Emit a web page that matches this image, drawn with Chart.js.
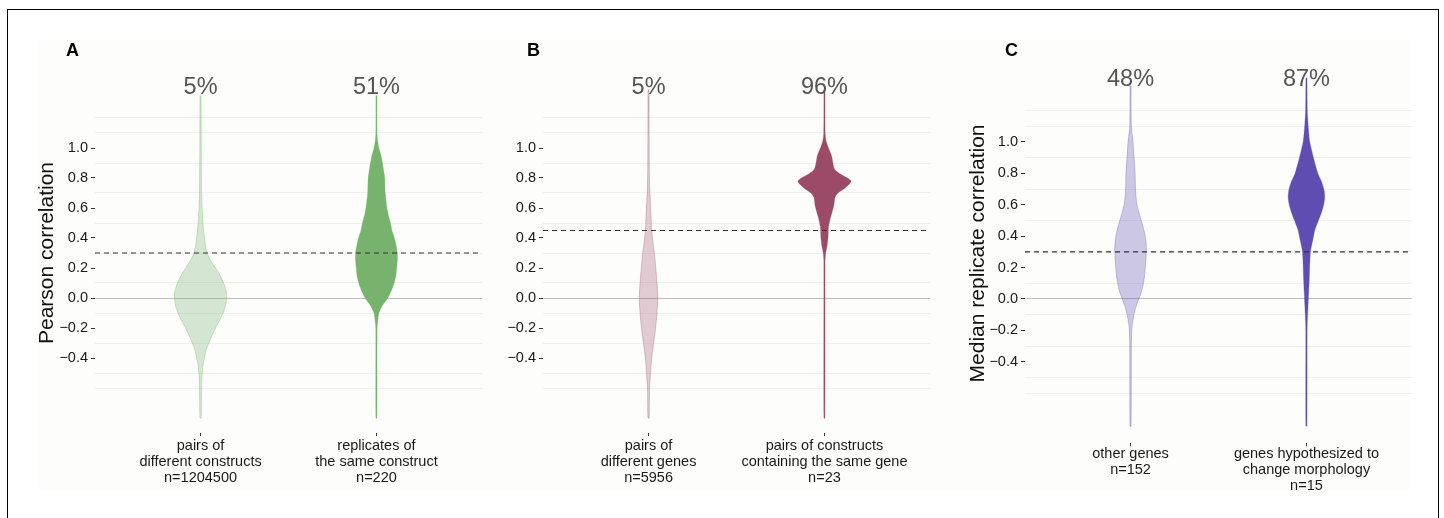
<!DOCTYPE html>
<html>
<head>
<meta charset="utf-8">
<script src="https://cdn.jsdelivr.net/npm/chart.js@4.4.1/dist/chart.umd.min.js"></script>
<style>
  html, body { margin: 0; padding: 0; background: #fff; }
  body { width: 1444px; height: 518px; position: relative; overflow: hidden; font-family: "Liberation Sans", Arial, sans-serif; }
  .frame { position: absolute; left: 7px; top: 9px; width: 1430px; height: 600px; border: 1px solid #000; }
  .panel-bg { position: absolute; top: 40px; height: 450px; background: #fdfdfc; }
  .letter { position: absolute; top: 41px; font-size: 18px; line-height: 18px; font-weight: bold; color: #000; }
  .chart-box { position: absolute; top: 40px; height: 470px; }
</style>
</head>
<body>
<div class="frame"></div>
<div class="panel-bg" style="left:38px;width:452px"></div>
<div class="panel-bg" style="left:490px;width:460px"></div>
<div class="panel-bg" style="left:950px;width:460px"></div>

<div class="chart-box" style="left:30px;width:460px"><canvas id="panelA" width="460" height="470"></canvas></div>
<div class="chart-box" style="left:490px;width:460px"><canvas id="panelB" width="460" height="470"></canvas></div>
<div class="chart-box" style="left:950px;width:470px"><canvas id="panelC" width="470" height="470"></canvas></div>

<div class="letter" style="left:66px">A</div>
<div class="letter" style="left:527px">B</div>
<div class="letter" style="left:1005px">C</div>

<script>
const FONT = '"Liberation Sans", Arial, sans-serif';

// y axis: labelled ticks and the faint grid lines between them
const yTickValues = [-0.4, -0.2, 0, 0.2, 0.4, 0.6, 0.8, 1.0];
const yGridValues = [-0.6, -0.5, -0.3, -0.1, 0.1, 0.3, 0.5, 0.7, 0.9, 1.1, 1.2];

// panel A
const labelsA = [['pairs of', 'different constructs', 'n=1204500'], ['replicates of', 'the same construct', 'n=220']];
const percentA = ['5%', '51%'];
const thresholdA = 0.3;
const levelsA1 = [1.35, 1.0, 0.7, 0.6, 0.55, 0.5, 0.45, 0.4, 0.35, 0.3, 0.25, 0.2, 0.15, 0.1, 0.05, 0.0, -0.05, -0.1, -0.15, -0.2, -0.25, -0.3, -0.35, -0.4, -0.45, -0.5, -0.6, -0.8];
const widthsA1 = [0.003, 0.004, 0.006, 0.009, 0.011, 0.014, 0.017, 0.023, 0.028, 0.037, 0.057, 0.085, 0.111, 0.131, 0.145, 0.149, 0.142, 0.128, 0.108, 0.085, 0.065, 0.047, 0.031, 0.022, 0.014, 0.009, 0.006, 0.003];
const levelsA2 = [1.35, 1.1, 1.05, 1.0, 0.95, 0.9, 0.85, 0.8, 0.7, 0.6, 0.55, 0.5, 0.45, 0.4, 0.35, 0.3, 0.25, 0.2, 0.15, 0.1, 0.05, 0.0, -0.05, -0.1, -0.15, -0.2, -0.8];
const widthsA2 = [0.003, 0.0035, 0.007, 0.014, 0.026, 0.034, 0.041, 0.047, 0.050, 0.060, 0.068, 0.080, 0.088, 0.102, 0.112, 0.119, 0.119, 0.115, 0.111, 0.101, 0.085, 0.065, 0.034, 0.014, 0.008, 0.004, 0.003];

// panel B
const labelsB = [['pairs of', 'different genes', 'n=5956'], ['pairs of constructs', 'containing the same gene', 'n=23']];
const percentB = ['5%', '96%'];
const thresholdB = 0.45;
const levelsB1 = [1.39, 0.9, 0.75, 0.65, 0.55, 0.45, 0.35, 0.3, 0.2, 0.1, 0.0, -0.1, -0.2, -0.3, -0.4, -0.5, -0.6, -0.8];
const widthsB1 = [0.003, 0.004, 0.006, 0.010, 0.014, 0.018, 0.027, 0.033, 0.041, 0.048, 0.053, 0.048, 0.040, 0.029, 0.018, 0.011, 0.006, 0.003];
const levelsB2 = [1.39, 1.1, 1.05, 1.0, 0.95, 0.9, 0.86, 0.83, 0.8, 0.78, 0.76, 0.73, 0.7, 0.67, 0.62, 0.57, 0.52, 0.47, 0.4, 0.34, 0.3, 0.25, -0.8];
const widthsB2 = [0.003, 0.004, 0.009, 0.023, 0.040, 0.048, 0.057, 0.085, 0.131, 0.151, 0.142, 0.114, 0.077, 0.060, 0.054, 0.043, 0.031, 0.023, 0.020, 0.014, 0.007, 0.0035, 0.003];

// panel C
const labelsC = [['other genes', 'n=152'], ['genes hypothesized to', 'change morphology', 'n=15']];
const percentC = ['48%', '87%'];
const thresholdC = 0.3;
const levelsC1 = [1.36, 1.1, 1.0, 0.9, 0.8, 0.7, 0.61, 0.55, 0.5, 0.42, 0.36, 0.31, 0.25, 0.2, 0.15, 0.1, 0.05, 0.0, -0.05, -0.1, -0.15, -0.2, -0.3, -0.81];
const widthsC1 = [0.003, 0.0045, 0.014, 0.020, 0.026, 0.028, 0.035, 0.048, 0.061, 0.080, 0.088, 0.090, 0.087, 0.084, 0.080, 0.073, 0.063, 0.047, 0.031, 0.019, 0.011, 0.007, 0.0045, 0.003];
const levelsC2 = [1.41, 1.2, 1.12, 1.05, 1.0, 0.9, 0.8, 0.75, 0.7, 0.65, 0.6, 0.55, 0.5, 0.44, 0.38, 0.31, 0.25, 0.15, 0.05, 0.0, -0.05, -0.12, -0.2, -0.81];
const widthsC2 = [0.003, 0.005, 0.009, 0.014, 0.019, 0.040, 0.065, 0.085, 0.099, 0.104, 0.098, 0.085, 0.068, 0.048, 0.037, 0.024, 0.020, 0.017, 0.013, 0.011, 0.009, 0.006, 0.004, 0.003];

// outline of a violin: down the left side, back up the right side
function violinPoints(center, levels, widths) {
    const left = levels.map((y, i) => ({x: center - widths[i], y: y}));
    const right = levels.map((y, i) => ({x: center + widths[i], y: y})).reverse();
    return left.concat(right);
}

function violin(center, levels, widths, fill, border, lineWidth) {
    return {
        data: violinPoints(center, levels, widths),
        fill: 'shape',
        backgroundColor: fill,
        borderColor: border,
        borderWidth: lineWidth,
        pointRadius: 0,
        tension: 0.25,
        order: 2
    };
}

const isOn = (list, v) => list.some(t => Math.abs(t - v) < 1e-6);

const percentPlugin = {
    id: 'pctLabels',
    afterDatasetsDraw(chart, args, opts) {
        const {ctx, scales: {x, y}} = chart;
        ctx.save();
        ctx.font = '23.5px ' + FONT;
        ctx.fillStyle = '#555555';
        ctx.textAlign = 'center';
        ctx.textBaseline = 'middle';
        opts.labels.forEach((t, i) => {
            ctx.fillText(t, x.getPixelForValue(i + 1), y.getPixelForValue(opts.at));
        });
        ctx.restore();
    }
};

function makePanel(id, p) {
    new Chart(document.getElementById(id), {
        type: 'line',
        data: {
            datasets: [
                {
                    data: [{x: 0.4, y: p.threshold}, {x: 2.6, y: p.threshold}],
                    borderColor: '#333333',
                    borderWidth: 1.2,
                    borderDash: [5, 4],
                    pointRadius: 0,
                    fill: false,
                    order: 0
                },
                violin(1, p.levels1, p.widths1, p.light, p.lightBorder, 0.8),
                violin(2, p.levels2, p.widths2, p.dark, p.dark, 0.3)
            ]
        },
        options: {
            responsive: false,
            animation: false,
            layout: {padding: {left: p.padLeft, right: p.padRight, top: p.padTop, bottom: 0}},
            plugins: {
                legend: {display: false},
                tooltip: {enabled: false},
                pctLabels: {labels: p.percents, at: 1.4}
            },
            scales: {
                x: {
                    type: 'linear',
                    min: 0.4,
                    max: 2.6,
                    afterBuildTicks: s => { s.ticks = [{value: 1}, {value: 2}]; },
                    afterFit: s => { s.height = p.xHeight; },
                    grid: {drawOnChartArea: false, tickLength: 3, tickColor: '#333333', tickWidth: 1},
                    border: {display: false},
                    ticks: {
                        autoSkip: false,
                        maxRotation: 0,
                        padding: p.xPad,
                        color: '#1a1a1a',
                        font: {family: FONT, size: 14.5, lineHeight: 1.1},
                        callback: v => p.labels[Math.round(v) - 1]
                    }
                },
                y: {
                    type: 'linear',
                    min: p.yMin,
                    max: p.yMax,
                    afterBuildTicks: s => {
                        s.ticks = yTickValues.concat(yGridValues).sort((a, b) => a - b).map(v => ({value: v}));
                    },
                    afterFit: s => { s.width = p.yWidth; },
                    title: {
                        display: !!p.title,
                        text: p.title,
                        color: '#111111',
                        padding: 0,
                        font: {family: FONT, size: 21, lineHeight: 1}
                    },
                    grid: {
                        tickLength: 4,
                        lineWidth: 1,
                        color: ctx => {
                            const v = ctx.tick ? ctx.tick.value : null;
                            if (v === null) return 'rgba(0,0,0,0)';
                            if (Math.abs(v) < 1e-6) return '#bdbdbd';
                            return isOn(yGridValues, v) ? '#f0f0ee' : 'rgba(0,0,0,0)';
                        },
                        tickColor: ctx => (ctx.tick && isOn(yTickValues, ctx.tick.value)) ? '#333333' : 'rgba(0,0,0,0)'
                    },
                    border: {display: false},
                    ticks: {
                        autoSkip: false,
                        padding: 3,
                        color: '#1a1a1a',
                        font: {family: FONT, size: 14.5},
                        callback: v => isOn(yTickValues, v) ? v.toFixed(1).replace('-', '\u2212') : ''
                    }
                }
            }
        },
        plugins: [percentPlugin]
    });
}

document.addEventListener('DOMContentLoaded', () => {
    makePanel('panelA', {
        labels: labelsA, percents: percentA, threshold: thresholdA,
        levels1: levelsA1, widths1: widthsA1, levels2: levelsA2, widths2: widthsA2,
        light: 'rgba(118,179,108,0.30)', lightBorder: 'rgba(118,179,108,0.45)', dark: '#77b36c',
        title: 'Pearson correlation',
        padLeft: 7, yWidth: 58, padRight: 8, padTop: 33, xHeight: 77, xPad: 2, yMin: -0.9, yMax: 1.5
    });
    makePanel('panelB', {
        labels: labelsB, percents: percentB, threshold: thresholdB,
        levels1: levelsB1, widths1: widthsB1, levels2: levelsB2, widths2: widthsB2,
        light: 'rgba(155,74,103,0.28)', lightBorder: 'rgba(155,74,103,0.40)', dark: '#9b4a67',
        title: '',
        padLeft: 0, yWidth: 53, padRight: 20, padTop: 33, xHeight: 77, xPad: 2, yMin: -0.9, yMax: 1.5
    });
    makePanel('panelC', {
        labels: labelsC, percents: percentC, threshold: thresholdC,
        levels1: levelsC1, widths1: widthsC1, levels2: levelsC2, widths2: widthsC2,
        light: 'rgba(95,77,178,0.30)', lightBorder: 'rgba(95,77,178,0.40)', dark: '#5f4db2',
        title: 'Median replicate correlation',
        padLeft: 18, yWidth: 57, padRight: 8, padTop: 23.5, xHeight: 66.6, xPad: 0, yMin: -0.92, yMax: 1.5
    });
});
</script>
</body>
</html>
